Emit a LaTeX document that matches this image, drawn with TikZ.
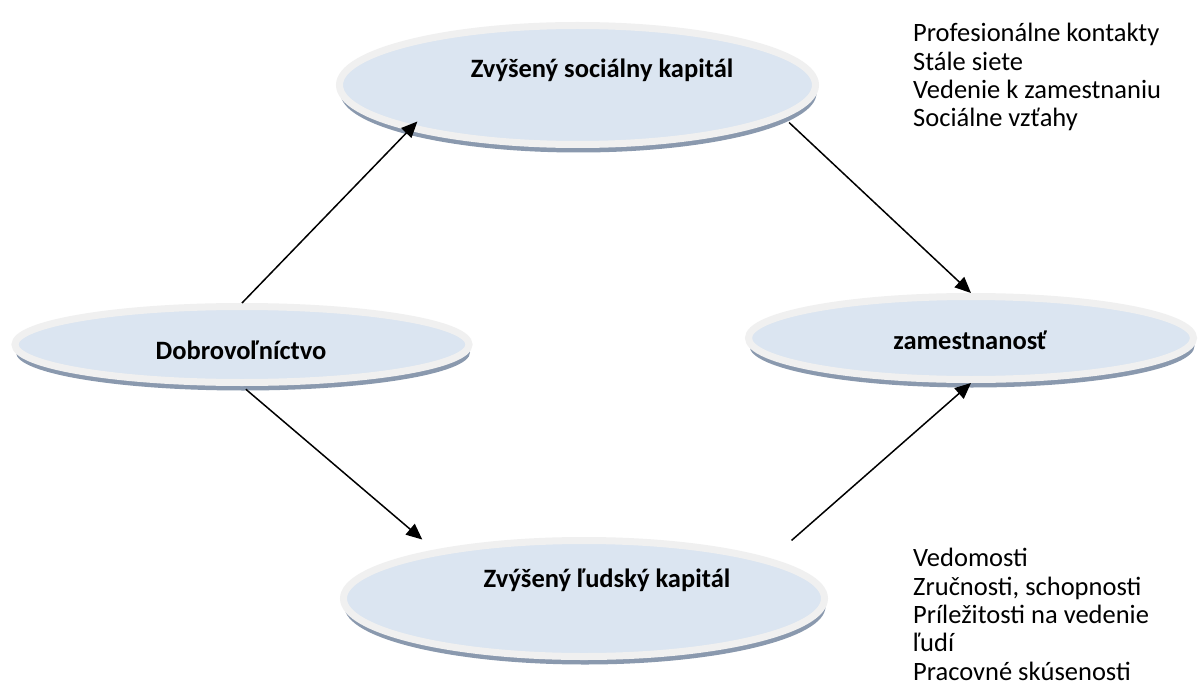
\documentclass[tikz,border=0pt]{standalone}
\usepackage{fontspec}
\setmainfont{Carlito}
\usetikzlibrary{shapes.geometric,shadows,arrows.meta}
\definecolor{fillc}{HTML}{DBE5F1}
\definecolor{rimc}{HTML}{F0F0F0}
\definecolor{shadc}{HTML}{8A99AE}
\begin{document}
\begin{tikzpicture}[x=1pt,y=-1pt,
  bubble/.style={ellipse, fill=fillc, draw=rimc, line width=7pt, inner sep=0pt,
    drop shadow={shadow xshift=1pt, shadow yshift=-8pt, fill=shadc, opacity=1}},
  lbl/.style={font=\fontsize{26.5}{28.3}\selectfont\bfseries, inner sep=0pt},
  list/.style={font=\fontsize{26.5}{28.3}\selectfont, align=left, inner sep=0pt, anchor=base west},
  arr/.style={-{Triangle[length=16pt,width=14pt]}, line width=1.5pt}]
\useasboundingbox (0,0) rectangle (1198,695);
\fill[white] (0,0) rectangle (1198,695);

\node[bubble, minimum width=476pt, minimum height=119pt] (T) at (577.5,85) {};
\node[bubble, minimum width=454pt, minimum height=76pt] (L) at (242,344.5) {};
\node[bubble, minimum width=445pt, minimum height=83pt] (R) at (971,338) {};
\node[bubble, minimum width=481pt, minimum height=116pt] (B) at (584,598.5) {};

\node[lbl] (Tt) at (602,70) {Zvýšený sociálny kapitál};
\node[lbl] (Lt) at (241,350) {Dobrovoľníctvo};
\node[lbl] (Rt) at (970,340) {zamestnanosť};
\node[lbl] (Bt) at (607,580) {Zvýšený ľudský kapitál};

% base anchor of a multi-line node is the baseline of its last line
\node[list] (top) at (913,126.7) {Profesionálne kontakty\\Stále siete\\Vedenie k zamestnaniu\\Sociálne vzťahy};
\node[list] (bot) at (913,680) {Vedomosti\\Zručnosti, schopnosti\\Príležitosti na vedenie\\ľudí\\Pracovné skúsenosti};

\draw[arr, shorten >=-12pt] (L.north) -- (T.195);
\draw[arr, shorten <=7pt] (T.-9) -- (R.north);
\draw[arr, shorten <=5pt, shorten >=16pt] (L.south) -- (B.162);
\draw[arr, shorten <=28pt] (B.12) -- (R.south);
\end{tikzpicture}
\end{document}
